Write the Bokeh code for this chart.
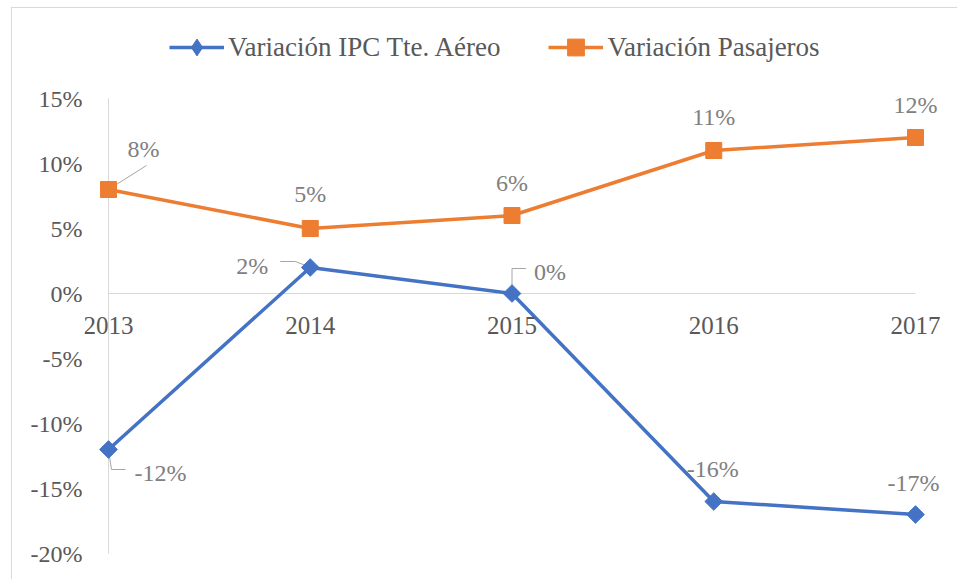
import math
from bokeh.plotting import figure
from bokeh.models import (Range1d, FixedTicker, NumeralTickFormatter,
                          Legend, LegendItem, ColumnDataSource, LabelSet)
from bokeh.embed import file_html
from bokeh.resources import INLINE

# ---- data ----
years = ["2013", "2014", "2015", "2016", "2017"]
ipc = [-0.12, 0.02, 0.00, -0.16, -0.17]
pasajeros = [0.08, 0.05, 0.06, 0.11, 0.12]
ipc_labels = ["-12%", "2%", "0%", "-16%", "-17%"]
pas_labels = ["8%", "5%", "6%", "11%", "12%"]
y_ticks = [-0.20, -0.15, -0.10, -0.05, 0.0, 0.05, 0.10, 0.15]

# ---- layout (reference pixel geometry) ----
OX, OY = 12, 8                 # canvas origin on the page (after border)
W, H = 946, 572
FRAME_LEFT = 84                # page x where the frame starts
CAT_FIRST, CAT_LAST = 108, 915  # page x of first / last category
VAL_TOP, VAL_BOT = 98, 553      # page y of top / bottom tick
L = FRAME_LEFT - OX
FW, FH = W - L, H

xs = list(range(len(years)))
PPU = (CAT_LAST - CAT_FIRST) / (xs[-1] - xs[0])
XMIN = xs[0] - (CAT_FIRST - FRAME_LEFT) / PPU
XMAX = xs[-1] + (OX + W - CAT_LAST) / PPU
PPV = (VAL_BOT - VAL_TOP) / (y_ticks[-1] - y_ticks[0])
YMAX = y_ticks[-1] + (VAL_TOP - OY) / PPV
YMIN = y_ticks[0] - (OY + H - VAL_BOT) / PPV

BLUE = "#4472C4"
ORANGE = "#ED7D31"
AXIS = "#595959"
LBL = "#808080"
GRID = "#d9d9d9"
FONT = "Liberation Serif"
LEG_GH = 42


def dx(px):
    return px / PPU


def dy(py):
    return -py / PPV


p = figure(width=W, height=H, output_backend="svg", toolbar_location=None,
           x_range=Range1d(XMIN, XMAX), y_range=Range1d(YMIN, YMAX),
           min_border_left=L, min_border_right=0, min_border_top=0,
           min_border_bottom=0)
p.styles = {"margin-left": "11px", "margin-top": "7px",
            "border-left": "1px solid #d9d9d9", "border-top": "1px solid #d9d9d9"}
p.outline_line_color = None
p.background_fill_color = "white"
p.border_fill_color = "white"
p.xgrid.visible = False
p.ygrid.visible = False
p.xaxis.visible = False

yax = p.yaxis[0]
yax.ticker = FixedTicker(ticks=y_ticks)
yax.formatter = NumeralTickFormatter(format="0%")
yax.axis_line_color = None
yax.major_tick_line_color = None
yax.minor_tick_line_color = None
yax.major_tick_out = 0
yax.major_tick_in = 0
yax.major_label_standoff = 2
yax.major_label_text_font = FONT
yax.major_label_text_font_size = "24px"
yax.major_label_text_color = AXIS

# value axis line and category axis line
p.segment(x0=[xs[0], xs[0]], y0=[y_ticks[0], 0], x1=[xs[0], xs[-1]], y1=[y_ticks[-1], 0],
          line_color=GRID, line_width=1)

# year labels at zero line
p.add_layout(LabelSet(source=ColumnDataSource(dict(x=xs, y=[0] * len(xs), t=years)),
                      x="x", y="y", text="t", y_offset=-32,
                      text_font=FONT, text_font_size="25px", text_color=AXIS,
                      text_align="center", text_baseline="middle"))

# leader lines (pixel offsets relative to point, y down)
leaders = [
    (xs[0], pasajeros[0], [(0, 0), (38, -24)]),
    (xs[0], ipc[0], [(0, 1), (3, 20), (17, 20)]),
    (xs[1], ipc[1], [(-30, -6), (-15, -6), (-2, -1)]),
    (xs[2], ipc[2], [(0, -3), (0, -25), (14, -25)]),
]
p.multi_line(xs=[[x0 + dx(a) for a, b in pts] for x0, y0, pts in leaders],
             ys=[[y0 + dy(b) for a, b in pts] for x0, y0, pts in leaders],
             line_color="#a6a6a6", line_width=1)

# series
l_ipc = p.line(xs, ipc, line_color=BLUE, line_width=3.5)
d_ipc = p.scatter(xs, ipc, marker="diamond", size=13,
                  fill_color=BLUE, line_color=BLUE)   # legend symbol, hidden under markers
s_ipc = p.scatter(xs, ipc, marker="square", angle=math.pi / 4, size=12.5,
                  fill_color=BLUE, line_color=BLUE)
l_pas = p.line(xs, pasajeros, line_color=ORANGE, line_width=3.5)
s_pas = p.scatter(xs, pasajeros, marker="square", size=16,
                  fill_color=ORANGE, line_color=ORANGE)

# data labels (offsets in px, LabelSet y_offset is upward)
src_p = ColumnDataSource(dict(x=xs, y=pasajeros, t=pas_labels,
                              xo=[35, 0, 0, 0, 0], yo=[41, 35, 33, 34, 33]))
p.add_layout(LabelSet(source=src_p, x="x", y="y", text="t", x_offset="xo", y_offset="yo",
                      text_font=FONT, text_font_size="24px", text_color=LBL,
                      text_align="center", text_baseline="middle"))
src_i = ColumnDataSource(dict(x=xs, y=ipc, t=ipc_labels,
                              xo=[52, -58, 38, -1, -2], yo=[-23, 2, 22, 33, 32]))
p.add_layout(LabelSet(source=src_i, x="x", y="y", text="t", x_offset="xo", y_offset="yo",
                      text_font=FONT, text_font_size="24px", text_color=LBL,
                      text_align="center", text_baseline="middle"))

legend = Legend(items=[
    LegendItem(label="Variación IPC Tte. Aéreo", renderers=[l_ipc, d_ipc]),
    LegendItem(label="Variación Pasajeros", renderers=[l_pas, s_pas]),
], orientation="horizontal", location=(169 - FRAME_LEFT, OY + H - (47 + LEG_GH // 2)))
legend.label_text_font = FONT
legend.label_text_font_size = "27px"
legend.label_text_color = AXIS
legend.glyph_width = 55
legend.glyph_height = LEG_GH
legend.label_height = LEG_GH
legend.label_standoff = 4
legend.spacing = 48
legend.padding = 0
legend.margin = 0
legend.border_line_color = None
legend.background_fill_alpha = 0
p.add_layout(legend, "center")

open("out.html", "w").write(file_html(p, INLINE))
